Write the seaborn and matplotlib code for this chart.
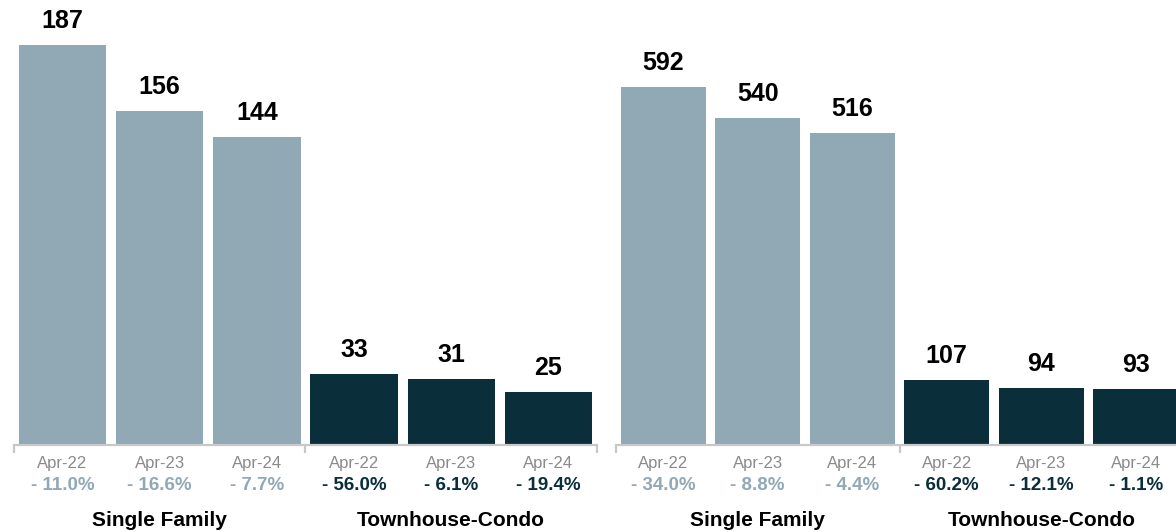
import matplotlib
matplotlib.use("Agg")
import matplotlib.pyplot as plt
import pandas as pd
import seaborn as sns

# Periods and housing segments
periods = ["Apr-22", "Apr-23", "Apr-24"]
segments = ["Single Family", "Townhouse-Condo"]

# Left panel: counts and year-over-year change
left_sf = [187, 156, 144]
left_tc = [33, 31, 25]
left_sf_pct = [-11.0, -16.6, -7.7]
left_tc_pct = [-56.0, -6.1, -19.4]

# Right panel: counts and year-over-year change
right_sf = [592, 540, 516]
right_tc = [107, 94, 93]
right_sf_pct = [-34.0, -8.8, -4.4]
right_tc_pct = [-60.2, -12.1, -1.1]

LIGHT = "#91a8b5"
DARK = "#0a2e3a"
TICK_GREY = "#8a8a8a"
AXIS_GREY = "#c8c8c8"

sns.set_theme(style="white")
plt.rcParams["font.family"] = ["Liberation Sans", "DejaVu Sans"]

fig = plt.figure(figsize=(11.76, 5.32), dpi=100)
W, H = 1176, 532


def fmt_pct(v):
    sign = "-" if v < 0 else "+"
    return f"{sign} {abs(v):.1f}%"


def draw_panel(ax, sf, tc, sf_pct, tc_pct, ymax):
    slots = [f"{s}|{p}" for s in segments for p in periods]
    df = pd.DataFrame({
        "slot": slots,
        "value": list(sf) + list(tc),
        "segment": [segments[0]] * 3 + [segments[1]] * 3,
    })
    sns.barplot(data=df, x="slot", y="value", hue="segment", order=slots,
                hue_order=segments, palette=[LIGHT, DARK], dodge=False,
                width=0.9, legend=False, ax=ax, saturation=1, linewidth=0)
    ax.set_xlim(-0.5, 5.5)
    ax.set_ylim(0, ymax)
    ax.set_xlabel("")
    ax.set_ylabel("")
    ax.set_yticks([])
    for side in ("left", "right", "top"):
        ax.spines[side].set_visible(False)
    ax.spines["bottom"].set_color(AXIS_GREY)
    ax.spines["bottom"].set_linewidth(1.6)
    ax.set_xticks(range(6))
    ax.set_xticklabels(periods * 2, color=TICK_GREY, fontsize=12)
    ax.tick_params(axis="x", which="major", length=0, pad=8)
    ax.set_xticks([-0.5, 2.5, 5.5], minor=True)
    ax.tick_params(axis="x", which="minor", bottom=True, length=6, width=1.6,
                   color=AXIS_GREY, direction="out")

    values = list(sf) + list(tc)
    pcts = list(sf_pct) + list(tc_pct)
    for i, (v, p) in enumerate(zip(values, pcts)):
        ax.annotate(str(v), xy=(i, v), xytext=(0, 17), textcoords="offset pixels",
                    ha="center", va="baseline", fontsize=18, fontweight="bold",
                    color="black")
        ax.annotate(fmt_pct(p), xy=(i, 0), xycoords=("data", "axes fraction"),
                    xytext=(0, -41), textcoords="offset pixels",
                    ha="center", va="center", fontsize=13.5, fontweight="bold",
                    color=LIGHT if i < 3 else DARK)
    for g, name in enumerate(segments):
        ax.annotate(name, xy=(1 + 3 * g, 0), xycoords=("data", "axes fraction"),
                    xytext=(0, -75), textcoords="offset pixels",
                    ha="center", va="center", fontsize=15, fontweight="bold",
                    color="black")


base = 445
ax1 = fig.add_axes([14 / W, (H - base) / H, 583 / W, base / H])
ax2 = fig.add_axes([616 / W, (H - base) / H, 567 / W, base / H])

draw_panel(ax1, left_sf, left_tc, left_sf_pct, left_tc_pct, 208.0)
draw_panel(ax2, right_sf, right_tc, right_sf_pct, right_tc_pct, 735.9)

fig.savefig("out.png", dpi=100, facecolor="white")
